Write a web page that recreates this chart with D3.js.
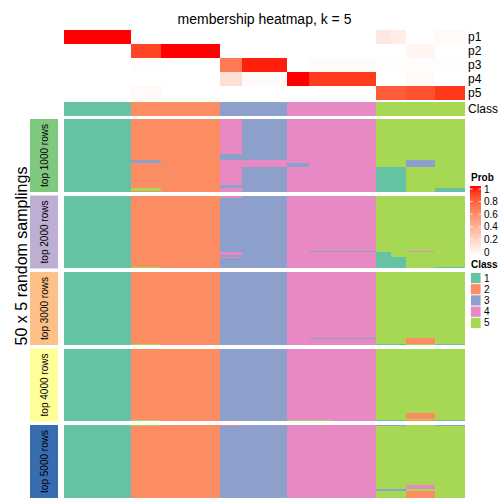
<!DOCTYPE html>
<html><head><meta charset="utf-8">
<script src="https://cdn.jsdelivr.net/npm/d3@7"></script>
<style>body{margin:0;background:#fff}svg{display:block;font-family:"Liberation Sans",Arial,sans-serif}</style>
</head><body><div id="chart"></div>
<script>
// ---- data ----
const classIds = [1, 2, 3, 4, 5];
const classColors = ["#66c2a5", "#fc8d62", "#8da0cb", "#e78ac3", "#a6d854"];
const probRows = ["p1", "p2", "p3", "p4", "p5"];
// column groups (consecutive samples with identical profiles)
const groupSizes = [9, 4, 8, 3, 6, 3, 3, 6, 2, 2, 4, 4];
const groupClass = [1, 2, 2, 3, 3, 4, 4, 4, 5, 5, 5, 5];
const p1 = [1.00, 0, 0, 0, 0, 0, 0, 0, 0.12, 0.09, 0, 0.03];
const p2 = [0, 0.88, 1.00, 0, 0, 0, 0, 0, 0, 0, 0.05, 0];
const p3 = [0, 0.01, 0, 0.68, 0.97, 0, 0.02, 0.02, 0.01, 0.01, 0.01, 0.01];
const p4 = [0, 0, 0, 0.17, 0.02, 1.00, 0.91, 0.91, 0, 0, 0.03, 0];
const p5 = [0, 0.03, 0, 0, 0, 0, 0, 0, 0.80, 0.80, 0.84, 0.92];
const panelLabels = ["top 1000 rows", "top 2000 rows", "top 3000 rows", "top 4000 rows", "top 5000 rows"];
const panelColors = ["#7fc97f", "#beaed4", "#fdc086", "#ffff99", "#386cb0"];
const nSamplings = 50;
// runs: [group, class, fromSampling, toSampling]
const panel1 = [[0,1,0,50],[1,2,0,50],[1,3,28,30],[1,5,47,49],[2,2,0,50],
  [3,4,0,50],[3,3,24,28],[3,3,45,47],[4,3,0,50],[4,4,28,33],[5,4,0,50],[5,3,30,33],
  [6,4,0,50],[7,4,0,50],[8,5,0,50],[8,1,33,50],[9,5,0,50],[9,1,33,50],
  [10,5,0,50],[10,3,28,33],[11,5,0,50],[11,1,47,50]];
const panel2 = [[0,1,0,50],[1,2,0,50],[1,5,49,50],[2,2,0,50],
  [3,3,0,50],[3,4,0,2],[3,4,39,41],[3,4,42,43],[4,3,0,50],[5,4,0,50],
  [6,4,0,50],[6,3,38,39],[7,4,0,50],[7,3,38,39],[8,5,0,50],[8,1,39,50],
  [9,5,0,50],[9,1,42,50],[10,5,0,50],[10,4,38,39],[11,5,0,50],[11,1,49,50]];
const panel3 = [[0,1,0,50],[1,2,0,50],[1,5,49,50],[2,2,0,50],[3,3,0,50],[4,3,0,50],
  [5,4,0,50],[6,4,0,50],[6,3,45,46],[7,4,0,50],[7,3,45,46],
  [8,5,0,50],[8,1,49,50],[9,5,0,50],[9,1,49,50],[10,5,0,50],[10,2,45,49],
  [11,5,0,50],[11,1,49,50]];
const panel4 = [[0,1,0,50],[1,2,0,50],[1,5,49,50],[2,2,0,50],[3,3,0,50],[4,3,0,50],
  [5,4,0,50],[5,5,49,50],[6,4,0,50],[6,5,49,50],[7,4,0,50],
  [8,5,0,50],[8,1,49,50],[9,5,0,50],[9,1,49,50],[10,5,0,50],[10,2,44,50],[10,5,48,49],
  [11,5,0,50],[11,1,49,50]];
const panel5 = [[0,1,0,50],[1,2,0,50],[1,5,0,1],[2,2,0,50],[3,3,0,50],[3,4,0,1],[4,3,0,50],
  [5,4,0,50],[6,4,0,50],[7,4,0,50],
  [8,5,0,50],[8,3,0,1],[8,3,44,45],[9,5,0,50],[9,3,0,1],[9,3,44,45],
  [10,5,0,50],[10,4,41,44],[10,2,45,50],[11,5,0,50],[11,3,0,1]];
const panels = [panel1, panel2, panel3, panel4, panel5];
const probTicks = [0, 0.2, 0.4, 0.6, 0.8, 1];

// ---- layout ----
const W = 504, H = 504;
const svg = d3.select("#chart").append("svg").attr("width", W).attr("height", H);

const groupStart = [];
groupSizes.reduce((a, s, i) => { groupStart[i] = a; return a + s; }, 0);
const nCols = d3.sum(groupSizes);
const x = d3.scaleLinear().domain([0, nCols]).range([64, 465]);
const classColor = d3.scaleOrdinal().domain(classIds).range(classColors);
const probColor = d3.scaleLinear().domain([0, 1]).range(["white", "red"]).interpolate(d3.interpolateLab);
const yProb = d3.scaleBand().domain(probRows).range([30, 100]);
const yPanel = d3.scaleBand().domain(panelLabels).range([119, 498]).paddingInner(0.0458);

svg.append("text").attr("x", 264.5).attr("y", 24).attr("text-anchor", "middle")
  .attr("font-size", 14).text("membership heatmap, k = 5");

// probability heatmap
const probs = [p1, p2, p3, p4, p5];
const hm = svg.append("g").attr("shape-rendering", "crispEdges");
probRows.forEach((r, ri) => {
  hm.selectAll(null).data(groupSizes).enter().append("rect")
    .attr("x", (d, i) => x(groupStart[i]))
    .attr("width", (d, i) => x(groupStart[i] + d) - x(groupStart[i]))
    .attr("y", yProb(r)).attr("height", yProb.bandwidth())
    .attr("fill", (d, i) => probColor(probs[ri][i]));
});
// class annotation
hm.selectAll(null).data(groupSizes).enter().append("rect")
  .attr("x", (d, i) => x(groupStart[i]))
  .attr("width", (d, i) => x(groupStart[i] + d) - x(groupStart[i]))
  .attr("y", 102).attr("height", 13.5)
  .attr("fill", (d, i) => classColor(groupClass[i]));

const rowLab = svg.append("g").attr("font-size", 12);
probRows.forEach(r => rowLab.append("text").attr("x", 468).attr("y", yProb(r) + yProb.bandwidth() / 2)
  .attr("dominant-baseline", "central").text(r));
rowLab.append("text").attr("x", 468).attr("y", 108.5).attr("dominant-baseline", "central").text("Class");

// panels
panelLabels.forEach((lab, pi) => {
  const top = yPanel(lab), bw = yPanel.bandwidth();
  const ys = d3.scaleLinear().domain([0, nSamplings]).range([top, top + bw]);
  const g = svg.append("g").attr("shape-rendering", "crispEdges");
  g.selectAll("rect").data(panels[pi]).enter().append("rect")
    .attr("x", d => x(groupStart[d[0]]))
    .attr("width", d => x(groupStart[d[0]] + groupSizes[d[0]]) - x(groupStart[d[0]]))
    .attr("y", d => ys(d[2])).attr("height", d => ys(d[3]) - ys(d[2]))
    .attr("fill", d => classColor(d[1]));
  svg.append("rect").attr("x", 30).attr("width", 28).attr("y", top).attr("height", bw)
    .attr("fill", panelColors[pi]);
  svg.append("text").attr("transform", `translate(44.5,${top + bw / 2}) rotate(-90)`)
    .attr("text-anchor", "middle").attr("dominant-baseline", "central")
    .attr("font-size", 10).text(lab);
});
svg.append("text").attr("transform", "translate(21,256) rotate(-90)")
  .attr("text-anchor", "middle").attr("dominant-baseline", "central")
  .attr("font-size", 16).text("50 x 5 random samplings");

// legends
const leg = svg.append("g");
leg.append("text").attr("x", 471).attr("y", 181).attr("font-size", 10).attr("font-weight", "bold").text("Prob");
const grad = svg.append("defs").append("linearGradient").attr("id", "pg")
  .attr("x1", 0).attr("y1", 1).attr("x2", 0).attr("y2", 0);
d3.range(0, 1.001, 0.1).forEach(t => grad.append("stop").attr("offset", t).attr("stop-color", probColor(t)));
const yLeg = d3.scaleLinear().domain([0, 1]).range([252, 189]);
leg.append("rect").attr("x", 470).attr("width", 11).attr("y", yLeg(1) - 3).attr("height", yLeg(0) - yLeg(1) + 6)
  .attr("fill", "url(#pg)");
probTicks.forEach(t => {
  leg.append("line").attr("x1", 470).attr("x2", 472.5).attr("y1", yLeg(t)).attr("y2", yLeg(t)).attr("stroke", "white").attr("stroke-opacity", 0.7);
  leg.append("line").attr("x1", 478.5).attr("x2", 481).attr("y1", yLeg(t)).attr("y2", yLeg(t)).attr("stroke", "white").attr("stroke-opacity", 0.7);
  leg.append("text").attr("x", 484).attr("y", yLeg(t)).attr("dominant-baseline", "central")
    .attr("font-size", 10).text(t === 0 || t === 1 ? String(t) : t.toFixed(1));
});
leg.append("text").attr("x", 471).attr("y", 268).attr("font-size", 10).attr("font-weight", "bold").text("Class");
const yCls = d3.scaleBand().domain(classIds).range([272.5, 328.5]);
classIds.forEach(c => {
  leg.append("rect").attr("x", 470.5).attr("width", 10.5).attr("y", yCls(c)).attr("height", yCls.bandwidth())
    .attr("fill", classColor(c)).attr("stroke", "white").attr("stroke-width", 0.8);
  leg.append("text").attr("x", 484).attr("y", yCls(c) + yCls.bandwidth() / 2).attr("dominant-baseline", "central")
    .attr("font-size", 10).text(c);
});
</script></body></html>
